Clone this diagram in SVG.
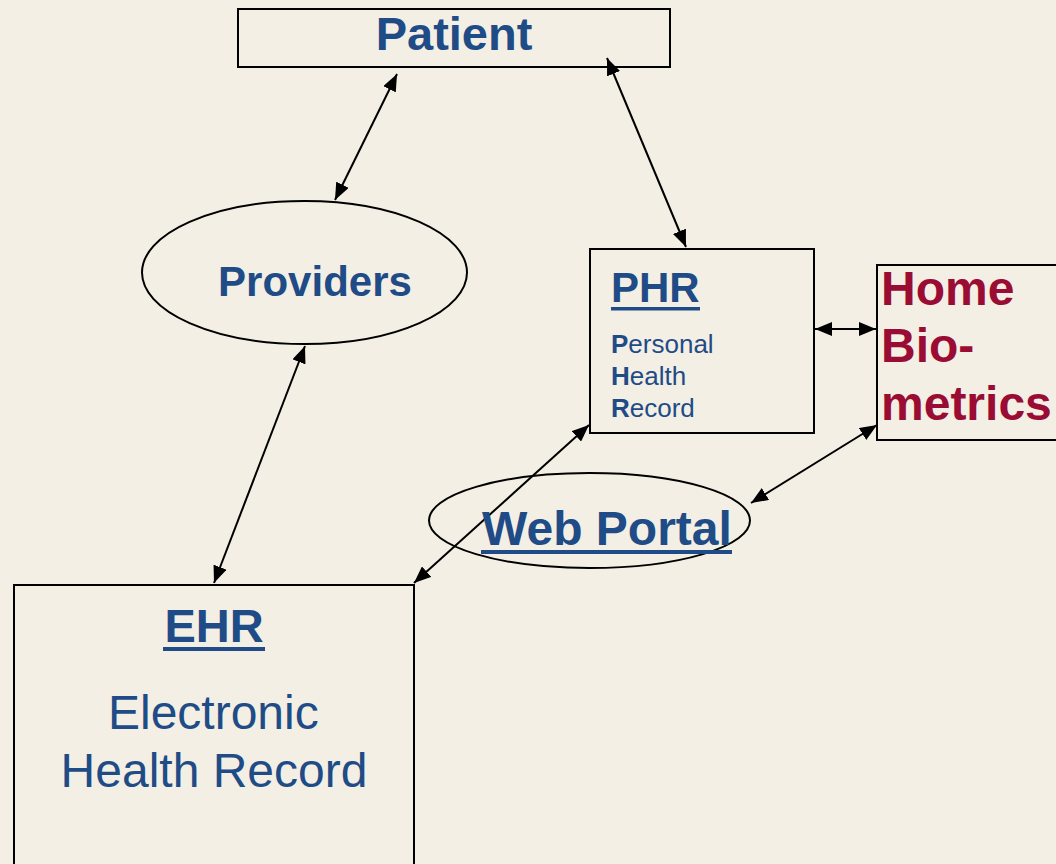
<svg xmlns="http://www.w3.org/2000/svg" width="1056" height="864" viewBox="0 0 1056 864">
  <defs>
    <style>
      .box { fill: #F3EFE4; stroke: #000; stroke-width: 2; }
      .lbl { font-family: "Liberation Sans", Arial, sans-serif; fill: #1F4B87; }
      .b { font-weight: bold; }
      .red { fill: #9A0C33; font-family: "Liberation Sans", Arial, sans-serif; font-weight: bold; }
      .ul { fill: #1F4B87; }
      .link { stroke: #000; stroke-width: 2; fill: none; marker-start: url(#arrow); marker-end: url(#arrow); }
    </style>
    <marker id="arrow" markerUnits="userSpaceOnUse" viewBox="0 0 17 14" refX="17" refY="7" markerWidth="17" markerHeight="14" orient="auto-start-reverse">
      <path d="M0,0 L17,7 L0,14 Z" fill="#000"/>
    </marker>
  </defs>

  <rect width="1056" height="864" fill="#F3EFE4"/>

  <!-- Patient -->
  <g id="patient">
    <rect class="box" x="238" y="9" width="432" height="58"/>
    <text class="lbl b" x="454" y="50" font-size="47" text-anchor="middle">Patient</text>
  </g>

  <!-- Providers -->
  <g id="providers">
    <ellipse class="box" cx="304.5" cy="272.5" rx="162.5" ry="71.5"/>
    <text class="lbl b" x="315" y="296" font-size="42" text-anchor="middle">Providers</text>
  </g>

  <!-- PHR -->
  <g id="phr">
    <rect class="box" x="590" y="249" width="224" height="184"/>
    <text class="lbl b" x="611" y="302" font-size="42">PHR</text>
    <rect class="ul" x="611" y="307" width="89" height="3.5"/>
    <text class="lbl" font-size="26">
      <tspan x="611" y="353"><tspan class="b">P</tspan>ersonal</tspan>
      <tspan x="611" y="385"><tspan class="b">H</tspan>ealth</tspan>
      <tspan x="611" y="417"><tspan class="b">R</tspan>ecord</tspan>
    </text>
  </g>

  <!-- Home Biometrics -->
  <g id="home-biometrics">
    <rect class="box" x="877" y="265" width="200" height="175"/>
    <text class="red" font-size="48">
      <tspan x="881" y="305">Home</tspan>
      <tspan x="881" y="362">Bio-</tspan>
      <tspan x="881" y="420">metrics</tspan>
    </text>
  </g>

  <!-- Web Portal -->
  <g id="web-portal">
    <ellipse class="box" cx="589.5" cy="520.5" rx="160.5" ry="47.5"/>
  </g>

  <!-- EHR -->
  <g id="ehr">
    <rect class="box" x="14" y="585" width="400" height="300"/>
    <text class="lbl b" x="214" y="642" font-size="47" text-anchor="middle">EHR</text>
    <rect class="ul" x="163" y="647" width="102" height="4"/>
    <text class="lbl" font-size="48" text-anchor="middle">
      <tspan x="220" y="729">Electronic</tspan>
      <tspan x="214" y="787">Health Record</tspan>
    </text>
  </g>

  <!-- Connectors -->
  <g id="connectors">
    <line class="link" x1="397" y1="74" x2="335" y2="200"/>
    <line class="link" x1="607" y1="58" x2="686" y2="247"/>
    <line class="link" x1="305" y1="346" x2="214" y2="583"/>
    <line class="link" x1="815" y1="329" x2="876" y2="329"/>
    <line class="link" x1="589" y1="425" x2="414" y2="583"/>
    <line class="link" x1="877" y1="425" x2="751" y2="503"/>
  </g>

  <!-- Web Portal label sits above the crossing connector -->
  <g id="web-portal-label">
    <text class="lbl b" x="482" y="545" font-size="48">Web Portal</text>
    <rect class="ul" x="481" y="550" width="251" height="4"/>
  </g>
</svg>
